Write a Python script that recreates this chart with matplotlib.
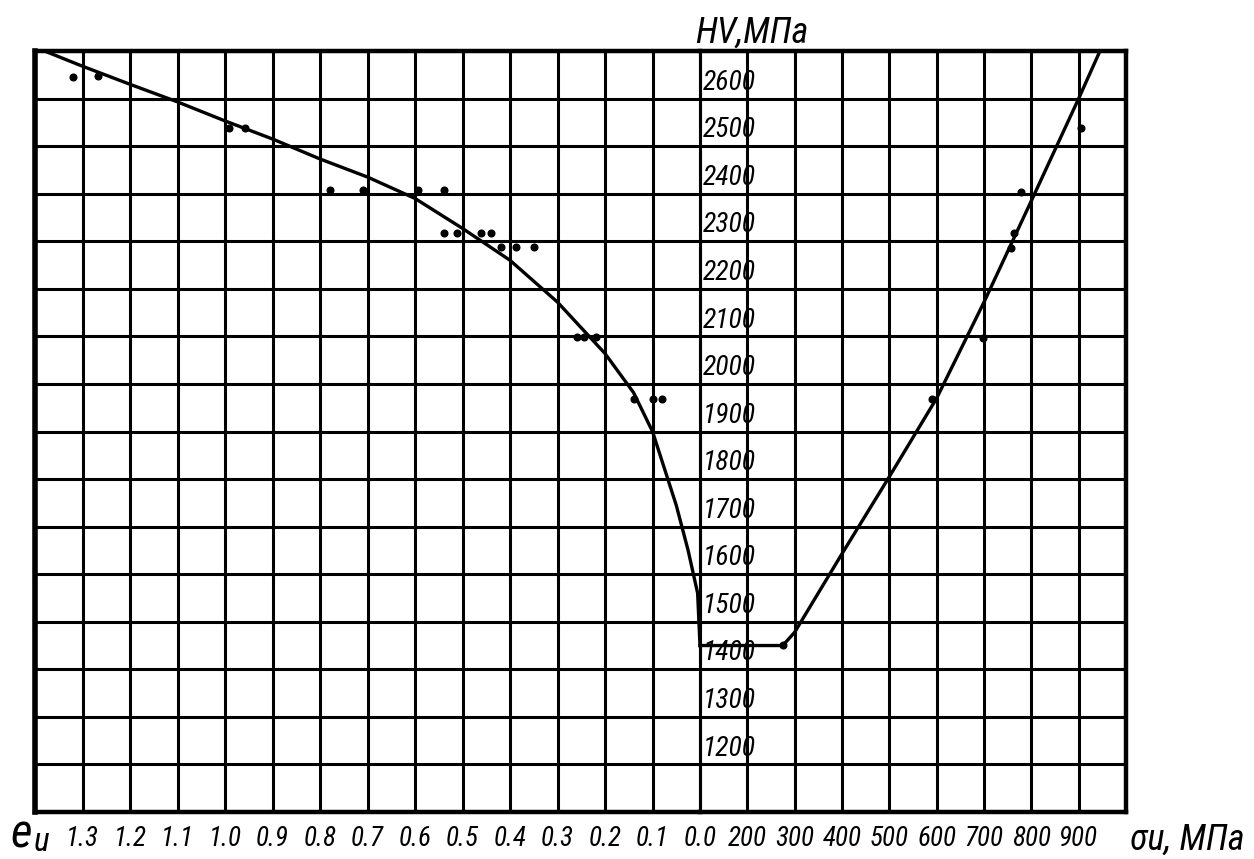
import matplotlib
matplotlib.use("Agg")
import matplotlib.pyplot as plt
from matplotlib import font_manager

# hardness curve vs. strain intensity (left part)
eu_curve = [1.38, 1.3, 1.2, 1.1, 1.0, 0.9, 0.8, 0.7, 0.6, 0.5, 0.4, 0.3,
            0.2, 0.14, 0.1, 0.05, 0.025, 0.005, 0.0]
hv_curve_e = [2700, 2668, 2630, 2593, 2553, 2515, 2473, 2435, 2390, 2327,
              2260, 2172, 2064, 1982, 1900, 1745, 1650, 1560, 1450]

# hardness curve vs. stress intensity (right part)
su_curve = [100, 275, 300, 400, 500, 600, 700, 800, 900, 945]
hv_curve_s = [1450, 1450, 1478, 1643, 1805, 1970, 2172, 2385, 2600, 2700]

# measured points
eu_pts = [1.32, 1.267, 0.991, 0.958, 0.778, 0.709, 0.593, 0.54,
          0.54, 0.511, 0.462, 0.439, 0.42, 0.388, 0.35,
          0.258, 0.245, 0.22, 0.14, 0.10, 0.079]
hv_pts_e = [2645, 2647, 2538, 2538, 2407, 2407, 2407, 2407,
            2317, 2317, 2317, 2317, 2288, 2288, 2288,
            2098, 2098, 2098, 1969, 1969, 1969]
su_pts = [905, 778, 764, 757, 697, 591, 275]
hv_pts_s = [2538, 2403, 2317, 2285, 2096, 1969, 1452]

eu_ticks = [1.3, 1.2, 1.1, 1.0, 0.9, 0.8, 0.7, 0.6, 0.5, 0.4, 0.3, 0.2, 0.1, 0.0]
eu_labels = ["1.3", "1.2", "1.1", "1.0", "0.9", "0.8", "0.7", "0.6", "0.5",
             "0.4", "0.3", "0.2", "0.1", "0.0"]
su_ticks = [200, 300, 400, 500, 600, 700, 800, 900]
hv_ticks = [1200, 1300, 1400, 1500, 1600, 1700, 1800, 1900, 2000, 2100,
            2200, 2300, 2400, 2500, 2600]

# narrow italic font if one is around, DejaVu otherwise
names = {f.name for f in font_manager.fontManager.ttflist}
fams = [n for n in ["Roboto Condensed", "Archivo Narrow", "Liberation Sans Narrow"] if n in names]
font = dict(family=fams[:1] + ["DejaVu Sans"], style="italic")

W, H = 1254, 859
fig = plt.figure(figsize=(W / 100, H / 100), dpi=100)

x0, x1, x2 = 35, 700, 1126
ytop, ybot = 51, 812
axL = fig.add_axes([x0 / W, (H - ybot) / H, (x1 - x0) / W, (ybot - ytop) / H])
axR = fig.add_axes([x1 / W, (H - ybot) / H, (x2 - x1) / W, (ybot - ytop) / H])

grid_lw = 2.2
for ax in (axL, axR):
    ax.set_ylim(1100, 2700)
    ax.set_yticks(range(1100, 2701, 100))
    ax.set_yticklabels([])
    ax.tick_params(length=0)
    ax.grid(True, color="black", lw=grid_lw)
    ax.set_axisbelow(True)
    for s in ax.spines.values():
        s.set_linewidth(3.2)

axL.set_xlim(1.4, 0.0)
axL.set_xticks([1.4] + eu_ticks)
axL.set_xticklabels([""] + eu_labels, fontsize=19.5, **font)
axL.spines["right"].set_visible(False)
axL.spines["left"].set_linewidth(4.0)

axR.set_xlim(100, 1000)
axR.set_xticks([100] + su_ticks + [1000])
axR.set_xticklabels([""] + [str(v) for v in su_ticks] + [""], fontsize=19.5, **font)
axR.spines["left"].set_linewidth(grid_lw)

for ax in (axL, axR):
    ax.tick_params(axis="x", pad=10)

# curves
axL.plot(eu_curve, hv_curve_e, color="black", lw=2.4, clip_on=False)
axR.plot(su_curve, hv_curve_s, color="black", lw=2.4, clip_on=False)
axL.plot(eu_pts, hv_pts_e, "o", color="black", ms=4.8)
axR.plot(su_pts, hv_pts_s, "o", color="black", ms=4.8)

# HV labels next to the vertical axis
for v in hv_ticks:
    axR.text(106, v + 6, str(v), ha="left", va="bottom", fontsize=20, **font)

fig.text(695 / W, 1 - 43 / H, "HV,МПа", ha="left", va="baseline", fontsize=26, **font)
fig.text(10 / W, 1 - 848 / H, "e", ha="left", va="baseline", fontsize=34, **font)
fig.text(34 / W, 1 - 851 / H, "u", ha="left", va="baseline", fontsize=24, **font)
fig.text(1130 / W, 1 - 850 / H, "σu, МПа", ha="left", va="baseline", fontsize=26, **font)

fig.savefig("out.png", dpi=100)
